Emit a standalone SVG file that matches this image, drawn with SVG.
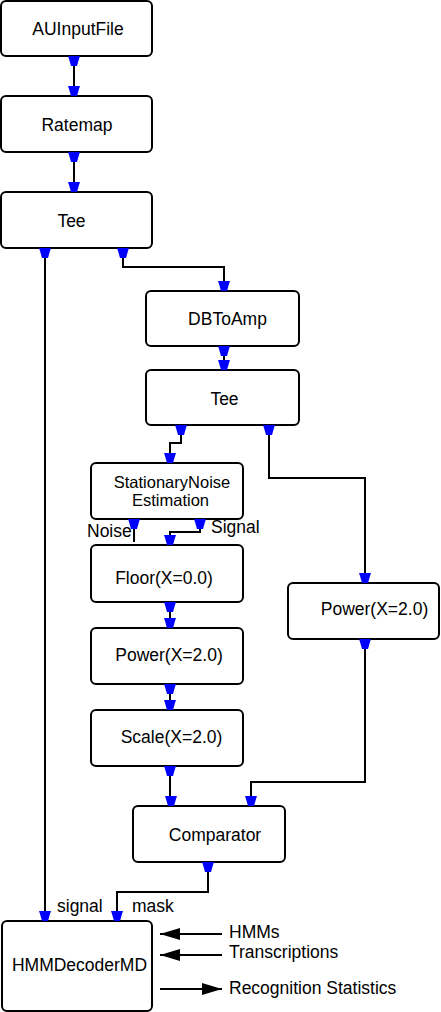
<svg xmlns="http://www.w3.org/2000/svg" width="441" height="1012" viewBox="0 0 441 1012">
<defs>
<style>
.box{fill:#fff;stroke:#000;stroke-width:2}
.t{font-family:"Liberation Sans",Arial,sans-serif;font-size:17.5px;fill:#000}
.s{font-size:16.5px}
.m{text-anchor:middle}
.c{fill:none;stroke:#000;stroke-width:2}
.p{fill:#0000ff}
</style>
<polygon id="port" points="-6,0 6,0 5,3 3,10 -3,10 -5,3"/>
<marker id="ah" markerWidth="20" markerHeight="12" refX="20" refY="6" orient="auto" markerUnits="userSpaceOnUse">
<polygon points="0,0 20,6 0,12" fill="#000"/>
</marker>
</defs>
<rect width="441" height="1012" fill="#fff"/>
<g id="connectors">
<polyline class="c" points="74,66 74,86"/>
<polyline class="c" points="74,162 74,182"/>
<polyline class="c" points="45,258 45,911"/>
<polyline class="c" points="123,258 123,267 224,267 224,281"/>
<polyline class="c" points="224,356 224,360"/>
<polyline class="c" points="181,435 181,443 170,443 170,453"/>
<polyline class="c" points="269,435 269,478 365,478 365,573"/>
<polyline class="c" points="134,529 134,542"/>
<polyline class="c" points="200,529 200,532 170,532 170,535"/>
<polyline class="c" points="170,612 170,618"/>
<polyline class="c" points="170,694 170,700"/>
<polyline class="c" points="170,776 170,796"/>
<polyline class="c" points="365,649 365,782 251,782 251,796"/>
<polyline class="c" points="208,872 208,892 117,892 117,911"/>
<line class="c" x1="222" y1="934" x2="160" y2="934" marker-end="url(#ah)"/>
<line class="c" x1="222" y1="955" x2="160" y2="955" marker-end="url(#ah)"/>
<line class="c" x1="160" y1="989" x2="222" y2="989" marker-end="url(#ah)"/>
</g>
<g id="AUInputFile">
<rect class="box" x="1" y="1" width="151" height="55" rx="5"/>
<text class="t m" x="78" y="35">AUInputFile</text>
<use href="#port" class="p" x="74" y="56"/>
</g>
<g id="Ratemap">
<rect class="box" x="1" y="96" width="151" height="56" rx="5"/>
<text class="t m" x="77" y="131">Ratemap</text>
<use href="#port" class="p" x="74" y="86"/>
<use href="#port" class="p" x="74" y="152"/>
</g>
<g id="Tee1">
<rect class="box" x="1" y="192" width="151" height="56" rx="5"/>
<text class="t m" x="71.5" y="227">Tee</text>
<use href="#port" class="p" x="74" y="182"/>
<use href="#port" class="p" x="45" y="248"/>
<use href="#port" class="p" x="123" y="248"/>
</g>
<g id="DBToAmp">
<rect class="box" x="146" y="291" width="153" height="55" rx="5"/>
<text class="t m" x="227.5" y="325">DBToAmp</text>
<use href="#port" class="p" x="224" y="281"/>
<use href="#port" class="p" x="224" y="346"/>
</g>
<g id="Tee2">
<rect class="box" x="146" y="370" width="153" height="55" rx="5"/>
<text class="t m" x="224.5" y="405">Tee</text>
<use href="#port" class="p" x="224" y="360"/>
<use href="#port" class="p" x="181" y="425"/>
<use href="#port" class="p" x="269" y="425"/>
</g>
<g id="StationaryNoiseEstimation">
<rect class="box" x="91" y="463" width="152" height="56" rx="5"/>
<text class="t s m" x="172" y="488">StationaryNoise</text>
<text class="t s m" x="170.5" y="506">Estimation</text>
<use href="#port" class="p" x="170" y="453"/>
<use href="#port" class="p" x="134" y="519"/>
<use href="#port" class="p" x="200" y="519"/>
<text class="t" x="87" y="537">Noise</text>
<text class="t" x="211" y="533">Signal</text>
</g>
<g id="Floor">
<rect class="box" x="91" y="545" width="152" height="57" rx="5"/>
<text class="t m" x="164" y="584">Floor(X=0.0)</text>
<use href="#port" class="p" x="170" y="535"/>
<use href="#port" class="p" x="170" y="602"/>
</g>
<g id="Power1">
<rect class="box" x="91" y="628" width="152" height="56" rx="5"/>
<text class="t m" x="169" y="661">Power(X=2.0)</text>
<use href="#port" class="p" x="170" y="618"/>
<use href="#port" class="p" x="170" y="684"/>
</g>
<g id="Scale">
<rect class="box" x="91" y="710" width="152" height="56" rx="5"/>
<text class="t m" x="171.5" y="743">Scale(X=2.0)</text>
<use href="#port" class="p" x="170" y="700"/>
<use href="#port" class="p" x="170" y="766"/>
</g>
<g id="Power2">
<rect class="box" x="288" y="583" width="151" height="56" rx="5"/>
<text class="t m" x="374.5" y="615">Power(X=2.0)</text>
<use href="#port" class="p" x="365" y="573"/>
<use href="#port" class="p" x="365" y="639"/>
</g>
<g id="Comparator">
<rect class="box" x="133" y="806" width="152" height="56" rx="5"/>
<text class="t m" x="215" y="841">Comparator</text>
<use href="#port" class="p" x="171" y="796"/>
<use href="#port" class="p" x="251" y="796"/>
<use href="#port" class="p" x="208" y="862"/>
</g>
<g id="HMMDecoderMD">
<rect class="box" x="2" y="921" width="150" height="90" rx="5"/>
<text class="t m" x="79.5" y="971">HMMDecoderMD</text>
<use href="#port" class="p" x="45" y="911"/>
<use href="#port" class="p" x="117" y="911"/>
<text class="t" x="57" y="912">signal</text>
<text class="t" x="132" y="912">mask</text>
</g>
<g id="labels">
<text class="t" x="229" y="938">HMMs</text>
<text class="t" x="229" y="958">Transcriptions</text>
<text class="t" x="229" y="994">Recognition Statistics</text>
</g>
</svg>
